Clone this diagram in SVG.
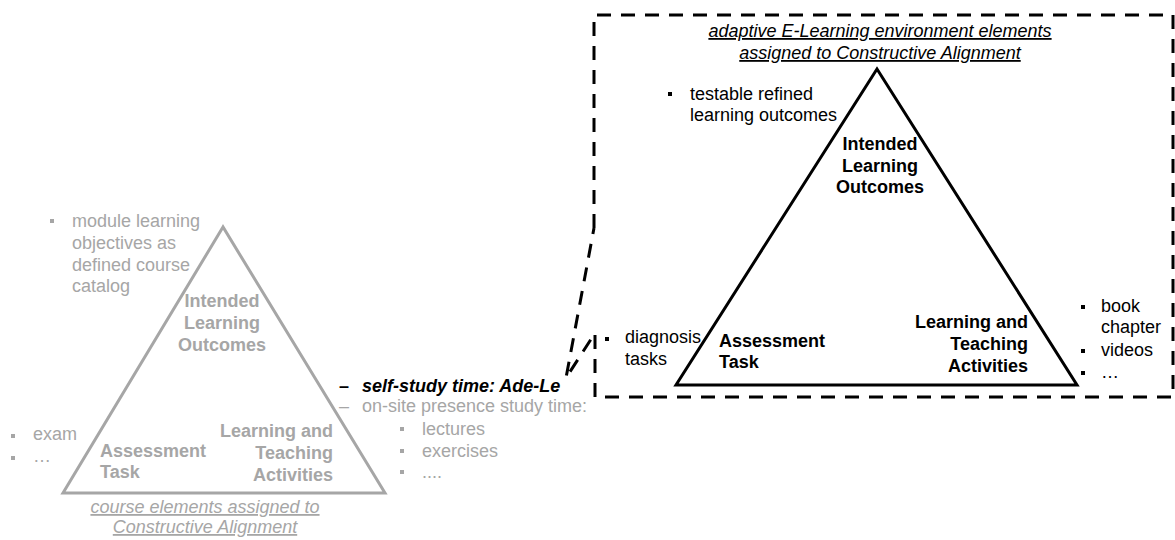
<svg xmlns="http://www.w3.org/2000/svg" width="1175" height="540" viewBox="0 0 1175 540">
<style>
text{font-family:"Liberation Sans",Arial,sans-serif;font-size:18px}
.g{fill:#a6a6a6}
.k{fill:#000}
.b{font-weight:bold}
.cap{font-style:italic;text-decoration:underline}
.mid{text-anchor:middle}
.end{text-anchor:end}
.tri-g{fill:none;stroke:#a6a6a6;stroke-width:3;stroke-linejoin:miter}
.tri-k{fill:none;stroke:#000;stroke-width:3;stroke-linejoin:miter}
.call{fill:none;stroke:#000;stroke-width:3;stroke-dasharray:14 10}
</style>
<rect width="1175" height="540" fill="#fff"/>

<g id="connectors">
  <path class="call" d="M594,228 L594,15 H1173 V397 H595 V333 L566,378 L594,228"/>
</g>

<g id="course-triangle">
  <polygon class="tri-g" points="223,227 63,493 385,493"/>
  <text class="g b mid" x="222" y="307">Intended</text>
  <text class="g b mid" x="222" y="329">Learning</text>
  <text class="g b mid" x="222" y="351">Outcomes</text>
  <text class="g b" x="100" y="457">Assessment</text>
  <text class="g b" x="100" y="478">Task</text>
  <text class="g b end" x="333" y="437">Learning and</text>
  <text class="g b end" x="333" y="459">Teaching</text>
  <text class="g b end" x="333" y="481">Activities</text>
</g>

<g id="course-objectives">
  <rect class="g" x="50" y="219" width="4" height="4"/>
  <text class="g" x="72" y="227">module learning</text>
  <text class="g" x="72" y="249">objectives as</text>
  <text class="g" x="72" y="271">defined course</text>
  <text class="g" x="72" y="292">catalog</text>
</g>

<g id="course-assessment">
  <rect class="g" x="11" y="434" width="4" height="4"/>
  <text class="g" x="33" y="440">exam</text>
  <rect class="g" x="11" y="456" width="4" height="4"/>
  <text class="g" x="33" y="462">…</text>
</g>

<g id="course-caption">
  <text class="g cap mid" x="205" y="513">course elements assigned to</text>
  <text class="g cap mid" x="205" y="533">Constructive Alignment</text>
</g>

<g id="study-time">
  <text class="k b" x="339" y="392">–</text>
  <text class="k b" x="362" y="392" font-style="italic">self-study time: Ade-Le</text>
  <text class="g" x="339" y="412">–</text>
  <text class="g" x="362" y="412">on-site presence study time:</text>
  <rect class="g" x="400" y="427" width="4" height="4"/>
  <text class="g" x="422" y="435">lectures</text>
  <rect class="g" x="400" y="449" width="4" height="4"/>
  <text class="g" x="422" y="457">exercises</text>
  <rect class="g" x="400" y="470" width="4" height="4"/>
  <text class="g" x="422" y="478">....</text>
</g>

<g id="adele-triangle">
  <polygon class="tri-k" points="877,69 676,385 1077,385"/>
  <text class="k b mid" x="880" y="150">Intended</text>
  <text class="k b mid" x="880" y="172">Learning</text>
  <text class="k b mid" x="880" y="193">Outcomes</text>
  <text class="k b" x="719" y="347">Assessment</text>
  <text class="k b" x="719" y="368">Task</text>
  <text class="k b end" x="1028" y="328">Learning and</text>
  <text class="k b end" x="1028" y="350">Teaching</text>
  <text class="k b end" x="1028" y="372">Activities</text>
</g>

<g id="adele-caption">
  <text class="k cap mid" x="880" y="37">adaptive E-Learning environment elements</text>
  <text class="k cap mid" x="880" y="59">assigned to Constructive Alignment</text>
</g>

<g id="adele-outcomes">
  <rect class="k" x="668" y="92" width="4" height="4"/>
  <text class="k" x="690" y="100">testable refined</text>
  <text class="k" x="690" y="121">learning outcomes</text>
</g>

<g id="adele-assessment">
  <rect class="k" x="605" y="337" width="4" height="4"/>
  <text class="k" x="625" y="343">diagnosis</text>
  <text class="k" x="625" y="365">tasks</text>
</g>

<g id="adele-activities">
  <rect class="k" x="1081" y="305" width="4" height="4"/>
  <text class="k" x="1101" y="312">book</text>
  <text class="k" x="1101" y="333">chapter</text>
  <rect class="k" x="1081" y="349" width="4" height="4"/>
  <text class="k" x="1101" y="356">videos</text>
  <rect class="k" x="1081" y="371" width="4" height="4"/>
  <text class="k" x="1101" y="378">…</text>
</g>
</svg>
